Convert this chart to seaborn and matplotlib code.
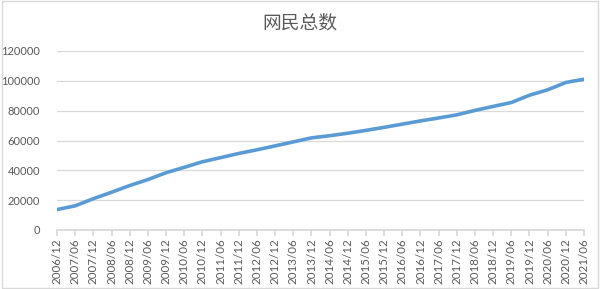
import matplotlib
matplotlib.use("Agg")
import matplotlib.pyplot as plt
import seaborn as sns
import pandas as pd
from matplotlib.patches import Rectangle

periods = ["2006/12", "2007/06", "2007/12", "2008/06", "2008/12", "2009/06", "2009/12",
           "2010/06", "2010/12", "2011/06", "2011/12", "2012/06", "2012/12", "2013/06",
           "2013/12", "2014/06", "2014/12", "2015/06", "2015/12", "2016/06", "2016/12",
           "2017/06", "2017/12", "2018/06", "2018/12", "2019/06", "2019/12", "2020/06",
           "2020/12", "2021/06"]
users = [13700, 16200, 21000, 25300, 29800, 33800, 38400, 42000, 45730, 48500, 51310,
         53760, 56400, 59056, 61758, 63200, 64875, 66769, 68826, 70958, 73125, 75116,
         77198, 80166, 82851, 85449, 90359, 93984, 98899, 101074]
title = "网民总数"
y_ticks = [0, 20000, 40000, 60000, 80000, 100000, 120000]

sns.set_theme(style="white")
plt.rcParams['font.family'] = ['Noto Sans CJK SC', 'DejaVu Sans']

df = pd.DataFrame({"idx": range(len(periods)), "period": periods, "users": users})

fig = plt.figure(figsize=(6, 2.89), dpi=100)
fig.patches.append(Rectangle((0.003, 0.005), 0.994, 0.99, transform=fig.transFigure,
                             fill=False, edgecolor="#d9d9d9", linewidth=1))
ax = fig.add_axes([57 / 600, 1 - 230 / 289, (584 - 57) / 600, (230 - 51) / 289])

sns.lineplot(data=df, x="idx", y="users", ax=ax, color="#5b9bd5", linewidth=2.6)

ax.set_xlim(0, len(periods) - 1)
ax.set_ylim(0, 120000)
ax.set_yticks(y_ticks)
ax.set_yticklabels([str(v) for v in y_ticks], fontsize=8, color="#595959",
                   family=['Lato', 'DejaVu Sans'])
ax.set_xticks(range(len(periods)))
ax.set_xticklabels(periods, rotation=90, fontsize=8.3, color="#595959",
                   family=['Lato', 'DejaVu Sans'])
ax.set_xlabel("")
ax.set_ylabel("")
ax.grid(axis="y", color="#d9d9d9", linewidth=0.9)
ax.set_axisbelow(True)
for s in ["top", "right", "left"]:
    ax.spines[s].set_visible(False)
ax.spines["bottom"].set_color("#d9d9d9")
ax.tick_params(axis="x", length=4, color="#d9d9d9", pad=2, bottom=True)
ax.tick_params(axis="y", length=0, pad=12)

fig.text(0.5, 1 - 23 / 289, title, ha="center", va="center", fontsize=13.5, color="#595959")

fig.savefig("out.png", dpi=100)
